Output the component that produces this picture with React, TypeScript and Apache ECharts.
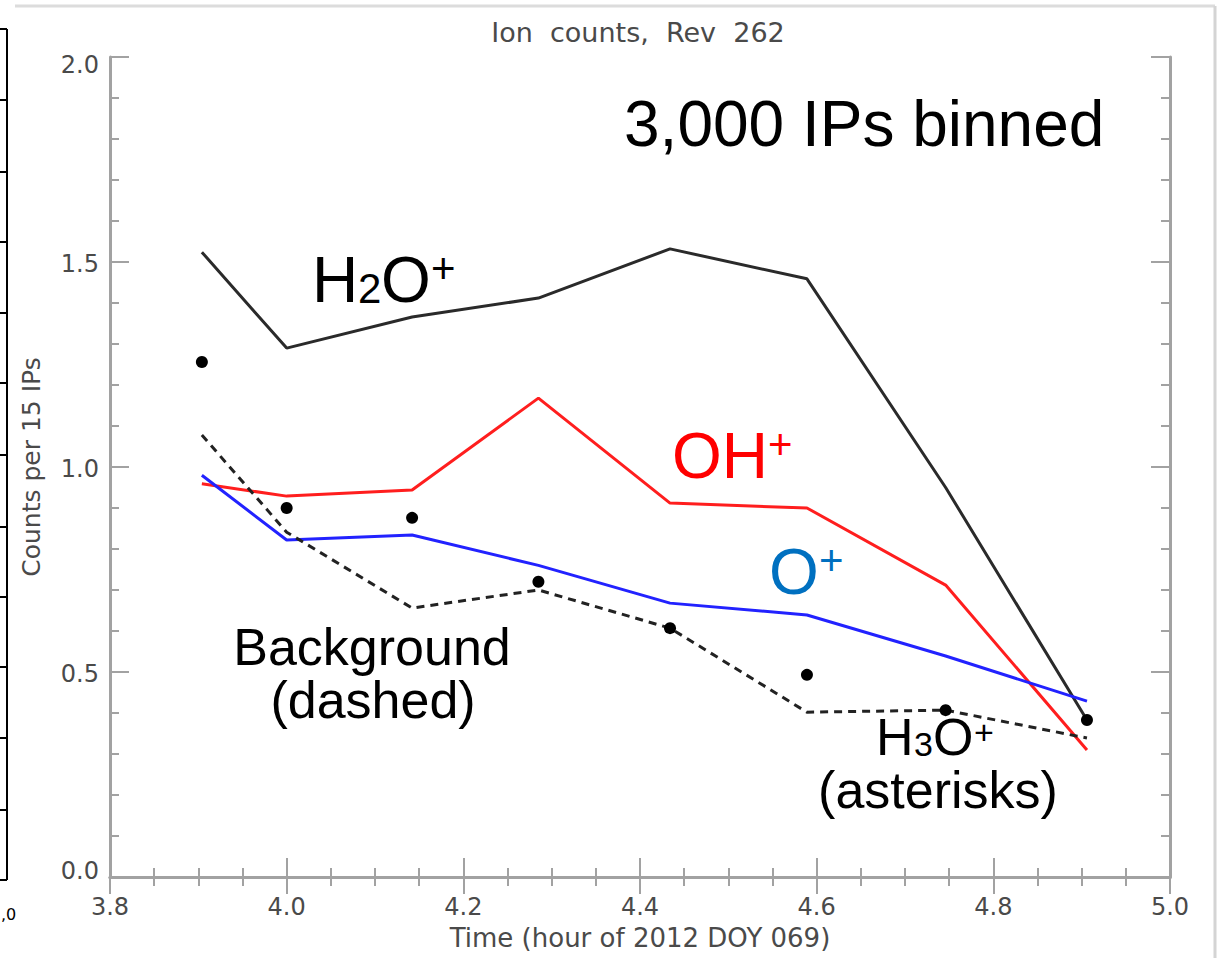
import React, { useEffect, useRef } from "react";
import * as echarts from "echarts";

// ---- data ----
const times = [3.904, 4.0, 4.142, 4.285, 4.434, 4.589, 4.746, 4.906];
const h2oPlus = [1.524, 1.29, 1.366, 1.412, 1.532, 1.459, 0.95, 0.383];
const ohPlus = [0.959, 0.929, 0.944, 1.168, 0.912, 0.9, 0.712, 0.31];
const oPlus = [0.98, 0.822, 0.834, 0.76, 0.668, 0.639, 0.539, 0.429];
const background = [1.078, 0.841, 0.656, 0.7, 0.607, 0.402, 0.407, 0.339];
const h3oPlus = [1.256, 0.9, 0.876, 0.72, 0.607, 0.493, 0.407, 0.383];

const xRange = { min: 3.8, max: 5.0, interval: 0.2 };
const yRange = { min: 0, max: 2.0, interval: 0.5 };

const titleText = "Ion  counts,  Rev  262";
const xName = "Time (hour of 2012 DOY 069)";
const yName = "Counts per 15 IPs";

const pair = (ys: number[]) => times.map((t, i) => [t, ys[i]]);

const AX = "#a2a2a2";
const LBL = "#4a4a4a";
const IDL = "DejaVu Sans, Verdana, sans-serif";
const ARIAL = "Liberation Sans, Arial, Helvetica, sans-serif";

// text placed by its baseline
function txt(text: string, x: number, baseline: number, size: number, color = "#000", align = "left", font = ARIAL) {
  return {
    type: "text",
    x,
    y: Math.round(baseline - 0.878 * size),
    z: 100,
    style: {
      text,
      fill: color,
      font: `${size}px ${font}`,
      textAlign: align,
      textVerticalAlign: "top",
    },
  };
}

export default function App() {
  const ref = useRef<HTMLDivElement>(null);
  useEffect(() => {
    if (!ref.current) return;
    const chart = echarts.init(ref.current, null, { renderer: "svg" });

    const baseAxis = {
      type: "value",
      splitLine: { show: false },
      axisLine: { show: true, lineStyle: { color: AX, width: 3 } },
      axisTick: { show: true, inside: true, length: 19, lineStyle: { color: AX, width: 2 } },
      minorTick: { show: true, length: 9, lineStyle: { color: AX, width: 2 } },
    };

    const lblStyle = { color: LBL, fontSize: 24, fontFamily: IDL };
    const leftTicks = [29, 100, 172, 242, 313, 383, 455, 527, 597, 667, 738, 810, 880];

    const option: any = {
      animation: false,
      backgroundColor: "#fff",
      grid: { left: 110, right: 48, top: 57, bottom: 93 },
      xAxis: [
        {
          ...baseAxis,
          ...xRange,
          position: "bottom",
          minorTick: { ...baseAxis.minorTick, splitNumber: 4 },
          axisLabel: {
            show: true,
            margin: 18,
            ...lblStyle,
            formatter: (v: number) => v.toFixed(1),
          },
          name: xName,
          nameLocation: "middle",
          nameGap: 48,
          nameTextStyle: { color: LBL, fontSize: 26, fontFamily: IDL },
        },
        {
          ...baseAxis,
          ...xRange,
          position: "top",
          axisTick: { ...baseAxis.axisTick, length: 17 },
          minorTick: { ...baseAxis.minorTick, splitNumber: 4 },
          axisLabel: { show: false },
        },
      ],
      yAxis: [
        {
          ...baseAxis,
          ...yRange,
          position: "left",
          minorTick: { ...baseAxis.minorTick, splitNumber: 5 },
          axisLabel: {
            show: true,
            margin: 11,
            ...lblStyle,
            formatter: (v: number) => {
              const s = v.toFixed(1);
              if (v >= yRange.max) return `{t|${s}}`;
              if (v <= yRange.min) return `{b|${s}}`;
              return `{n|${s}}`;
            },
            rich: {
              t: { ...lblStyle, padding: [16, 0, 0, 0] },
              b: { ...lblStyle, padding: [0, 0, 12, 0] },
              n: { ...lblStyle, padding: [4, 0, 0, 0] },
            },
          },
        },
        {
          ...baseAxis,
          ...yRange,
          position: "right",
          minorTick: { ...baseAxis.minorTick, splitNumber: 5 },
          axisLabel: { show: false },
        },
      ],
      series: [
        {
          name: "H2O+",
          type: "line",
          data: pair(h2oPlus),
          symbol: "none",
          lineStyle: { color: "#2a2a2a", width: 3 },
          z: 3,
        },
        {
          name: "OH+",
          type: "line",
          data: pair(ohPlus),
          symbol: "none",
          lineStyle: { color: "#ff1e1e", width: 3 },
          z: 3,
        },
        {
          name: "O+",
          type: "line",
          data: pair(oPlus),
          symbol: "none",
          lineStyle: { color: "#2222ff", width: 3 },
          z: 3,
        },
        {
          name: "Background",
          type: "line",
          data: pair(background),
          symbol: "none",
          lineStyle: { color: "#222", width: 3, type: [8, 6] },
          z: 3,
        },
        {
          name: "H3O+",
          type: "scatter",
          data: pair(h3oPlus),
          symbol: "circle",
          symbolSize: 12,
          itemStyle: { color: "#000", opacity: 1 },
          z: 4,
        },
      ],
      graphic: [
        // outer frame pieces
        { type: "line", shape: { x1: 15, y1: 6, x2: 1215, y2: 6 }, style: { stroke: "#dcdcdc", lineWidth: 3 } },
        { type: "line", shape: { x1: 1215, y1: 6, x2: 1215, y2: 958 }, style: { stroke: "#d4d4d4", lineWidth: 3 } },
        // partial neighbouring plot on the left
        { type: "line", shape: { x1: 7, y1: 29, x2: 7, y2: 880 }, style: { stroke: "#000", lineWidth: 2 } },
        ...leftTicks.map((y) => ({
          type: "line",
          shape: { x1: 0, y1: y, x2: 7, y2: y },
          style: { stroke: "#000", lineWidth: 2 },
        })),
        txt(",0", 1, 920, 16, "#000", "left", IDL),
        // title
        txt(titleText, 638, 43, 27, LBL, "center", IDL),
        // y axis name
        {
          type: "text",
          x: 31,
          y: 467,
          rotation: Math.PI / 2,
          style: {
            text: yName,
            fill: LBL,
            font: `25px ${IDL}`,
            textAlign: "center",
            textVerticalAlign: "middle",
          },
        },
        // annotations
        txt("3,000 IPs binned", 624, 148, 64),
        txt("H", 312, 304, 64),
        txt("2", 358, 304, 42),
        txt("O", 381, 304, 64),
        txt("+", 431, 284, 42),
        txt("OH", 672, 480, 64, "#ff0000"),
        txt("+", 768, 460, 42, "#ff0000"),
        txt("O", 769, 596, 64, "#0070c0"),
        txt("+", 819, 576, 42, "#0070c0"),
        txt("Background", 372, 667, 52, "#000", "center"),
        txt("(dashed)", 373, 720, 52, "#000", "center"),
        txt("H", 876, 757, 52),
        txt("3", 914, 757, 34),
        txt("O", 933, 757, 52),
        txt("+", 974, 745, 34),
        txt("(asterisks)", 938, 810, 52, "#000", "center"),
      ],
    };
    chart.setOption(option);
    return () => chart.dispose();
  }, []);
  return (
    <div
      ref={ref}
      style={{ position: "fixed", left: 0, top: 0, width: 1218, height: 970, background: "#fff" }}
    />
  );
}
